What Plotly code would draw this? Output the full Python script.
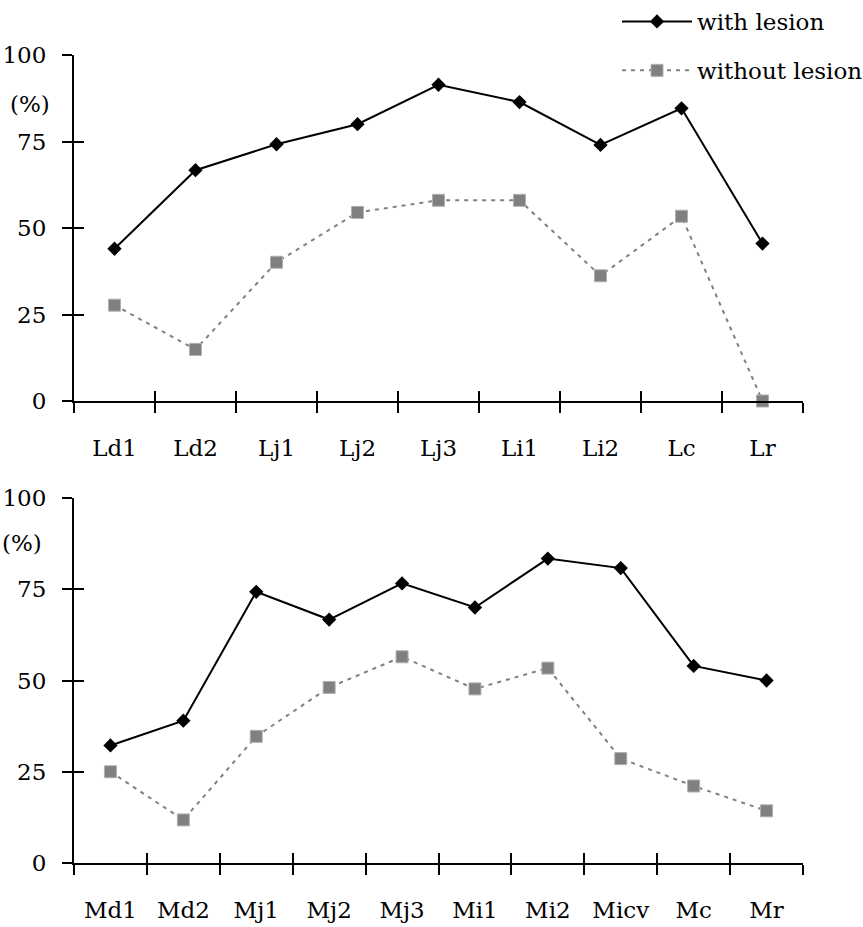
import plotly.graph_objects as go

# ---------------- data ----------------
top_categories = ["Ld1", "Ld2", "Lj1", "Lj2", "Lj3", "Li1", "Li2", "Lc", "Lr"]
top_with = [44.0, 66.7, 74.2, 80.0, 91.4, 86.4, 74.0, 84.6, 45.5]
top_without = [27.7, 14.9, 40.1, 54.5, 58.0, 58.0, 36.2, 53.4, 0.0]

bottom_categories = ["Md1", "Md2", "Mj1", "Mj2", "Mj3", "Mi1", "Mi2", "Micv", "Mc", "Mr"]
bottom_with = [32.2, 39.0, 74.3, 66.7, 76.6, 70.0, 83.4, 80.8, 54.0, 50.0]
bottom_without = [25.0, 11.8, 34.7, 48.1, 56.5, 47.7, 53.4, 28.6, 21.1, 14.3]

y_ticks = [0, 25, 50, 75, 100]
series_names = ["with lesion", "without lesion"]

# ---------------- styling ----------------
FONT = "DejaVu Serif"
FS = 23
BLACK = "#000000"
GRAY = "#808080"

W, H = 863, 927
# target pixel geometry in the screenshot
PX_L, PX_R, PX_T1, PX_B1, PX_T2, PX_B2 = 74, 803, 55, 401, 498, 863
ML, MT = PX_L, PX_T1
MR = W - PX_R
MB = H - PX_B2
plot_h = H - MT - MB
plot_w = W - ML - MR
top_dom = [(PX_B2 - PX_B1) / plot_h, 1.0]
bot_dom = [0.0, (PX_B2 - PX_T2) / plot_h]

fig = go.Figure()

def add_panel(cats, w, wo, xa, ya, show_legend):
    fig.add_trace(go.Scatter(
        x=cats, y=w, name=series_names[0], mode="lines+markers",
        line=dict(color=BLACK, width=2),
        marker=dict(symbol="diamond", size=11, color=BLACK),
        xaxis=xa, yaxis=ya, showlegend=show_legend, legendgroup="g1",
        cliponaxis=False))
    fig.add_trace(go.Scatter(
        x=cats, y=wo, name=series_names[1], mode="lines+markers",
        line=dict(color=GRAY, width=2, dash="4px,5px"),
        marker=dict(symbol="square", size=12, color=GRAY,
                    line=dict(color="#b0b0b0", width=1)),
        xaxis=xa, yaxis=ya, showlegend=show_legend, legendgroup="g2",
        cliponaxis=False))

add_panel(top_categories, top_with, top_without, "x", "y", True)
add_panel(bottom_categories, bottom_with, bottom_without, "x2", "y2", False)

# empty traces to register overlay axes (inside ticks)
fig.add_trace(go.Scatter(x=[], y=[], xaxis="x3", yaxis="y3", showlegend=False, hoverinfo="skip"))
fig.add_trace(go.Scatter(x=[], y=[], xaxis="x4", yaxis="y4", showlegend=False, hoverinfo="skip"))

tickfont = dict(family=FONT, size=FS, color=BLACK)

def xcat(cats, anchor):
    return dict(type="category", categoryorder="array", categoryarray=cats,
                range=[-0.5, len(cats) - 0.5], anchor=anchor, domain=[0, 1],
                showline=True, linecolor=BLACK, linewidth=2, showgrid=False,
                zeroline=False, ticks="outside", ticklen=10, tickwidth=2,
                tickcolor=BLACK, tickson="boundaries", tickfont=tickfont,
                ticklabelstandoff=25, fixedrange=True, automargin=False)

def xin(n, anchor, over):
    return dict(type="linear", range=[-0.5, n - 0.5], anchor=anchor,
                overlaying=over, tick0=-0.5, dtick=1, ticks="inside",
                ticklen=10, tickwidth=2, tickcolor=BLACK, showticklabels=False,
                showline=False, showgrid=False, zeroline=False, fixedrange=True,
                automargin=False)

def ymain(dom, anchor):
    return dict(range=[0, 100], domain=dom, anchor=anchor, tickvals=y_ticks,
                showline=True, linecolor=BLACK, linewidth=2, showgrid=False,
                zeroline=False, ticks="outside", ticklen=10, tickwidth=2,
                tickcolor=BLACK, tickfont=tickfont, ticklabelstandoff=11,
                fixedrange=True, automargin=False)

def yin(anchor, over):
    return dict(range=[0, 100], anchor=anchor, overlaying=over, tickvals=y_ticks,
                ticks="inside", ticklen=10, tickwidth=2, tickcolor=BLACK,
                showticklabels=False, showline=False, showgrid=False,
                zeroline=False, fixedrange=True, automargin=False)

fig.update_layout(
    width=W, height=H,
    margin=dict(l=ML, r=MR, t=MT, b=MB, autoexpand=False),
    paper_bgcolor="white", plot_bgcolor="rgba(0,0,0,0)",
    font=dict(family=FONT, size=FS, color=BLACK),
    xaxis=xcat(top_categories, "y"),
    yaxis=ymain(top_dom, "x"),
    xaxis2=xcat(bottom_categories, "y2"),
    yaxis2=ymain(bot_dom, "x2"),
    xaxis3=xin(len(top_categories), "y3", "x"),
    yaxis3=yin("x3", "y"),
    xaxis4=xin(len(bottom_categories), "y4", "x2"),
    yaxis4=yin("x4", "y2"),
    showlegend=True,
    legend=dict(x=617 / W, y=1.0 + 7 / H, xref="container", yref="container",
                xanchor="left", yanchor="top",
                bgcolor="rgba(0,0,0,0)", borderwidth=0,
                font=dict(family=FONT, size=FS, color=BLACK),
                traceorder="grouped", tracegroupgap=16, itemwidth=70),
    annotations=[
        dict(text="(%)", xref="paper", yref="paper",
             x=(52 - PX_L) / plot_w, y=(PX_B2 - 104) / plot_h,
             xanchor="right", yanchor="middle", showarrow=False,
             font=dict(family=FONT, size=FS, color=BLACK)),
        dict(text="(%)", xref="paper", yref="paper",
             x=(44 - PX_L) / plot_w, y=(PX_B2 - 543) / plot_h,
             xanchor="right", yanchor="middle", showarrow=False,
             font=dict(family=FONT, size=FS, color=BLACK)),
    ],
)

fig.write_html("out.html", config={"displayModeBar": False},
               post_script="document.body.style.margin='0';")
